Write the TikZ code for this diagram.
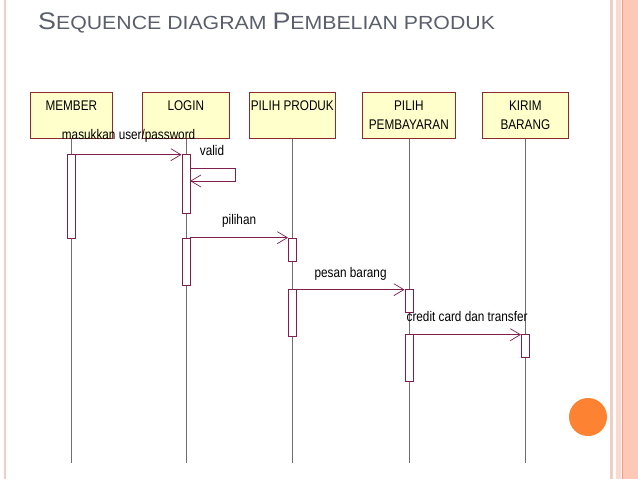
\documentclass[tikz,border=0pt]{standalone}
\usepackage{fontspec}
\setmainfont{Liberation Sans}
\newfontfamily\narrowf[FakeStretch=0.84]{Liberation Sans}
\newfontfamily\titlef[FakeStretch=1.12]{Liberation Sans}
\usetikzlibrary{arrows.meta}
\definecolor{boxfill}{HTML}{FFFFCC}
\definecolor{boxline}{HTML}{8B2C2C}
\definecolor{msgcol}{HTML}{7F1F4F}
\definecolor{lifecol}{HTML}{6E6E6E}
\definecolor{titlecol}{HTML}{5A5F6B}
\definecolor{bordpink}{HTML}{F2CDC1}
\definecolor{bordlight}{HTML}{FBD9CD}
\definecolor{bordfill}{HTML}{FDC9B6}
\definecolor{bordline}{HTML}{EE9E7E}
\definecolor{dotcol}{HTML}{FD8232}
\tikzset{
  objbox/.style={draw=boxline, fill=boxfill, line width=0.7pt, inner sep=0pt, anchor=north west},
  objtext/.style={anchor=north, inner sep=0pt, align=center, font={\narrowf\fontsize{14}{19}\selectfont}},
  actbar/.style={draw=msgcol, fill=white, line width=0.7pt, minimum width=8pt, inner sep=0pt},
  lifeline/.style={draw=lifecol, line width=0.5pt},
  msg/.style={draw=msgcol, line width=0.7pt, -{Straight Barb[length=10pt,width=12pt]}},
  msglabel/.style={anchor=base, inner sep=0pt, font={\narrowf\fontsize{14}{16}\selectfont}}
}
\begin{document}
\begin{tikzpicture}[x=1pt,y=-1pt]
\useasboundingbox (0,0) rectangle (638,479);
% slide borders
\fill[bordpink] (4,0) rectangle (6,479);
\fill[bordpink] (609.5,0) rectangle (612.5,479);
\fill[bordlight] (616,0) rectangle (621,479);
\fill[bordfill] (622,0) rectangle (638,479);
\draw[bordline, line width=1pt] (622,0) -- (622,479);
% title
\node[anchor=base west, inner sep=0pt, text=titlecol, font=\titlef] (title) at (38,30)
  {\fontsize{24}{28}\selectfont S\fontsize{19}{22}\selectfont EQUENCE DIAGRAM \fontsize{24}{28}\selectfont P\fontsize{19}{22}\selectfont EMBELIAN PRODUK};
% object boxes
\node[objbox, minimum width=82pt, minimum height=46pt] (mem) at (30,92) {};
\node[objbox, minimum width=87pt, minimum height=46pt] (log) at (142,92) {};
\node[objbox, minimum width=86pt, minimum height=46pt] (pro) at (249,92) {};
\node[objbox, minimum width=93pt, minimum height=46pt] (pay) at (362,92) {};
\node[objbox, minimum width=86pt, minimum height=46pt] (kir) at (482,92) {};
\node[objtext] (memt) at ([yshift=-9pt]mem.north) {MEMBER};
\node[objtext] (logt) at ([yshift=-9pt]log.north) {LOGIN};
\node[objtext] (prot) at ([yshift=-9pt]pro.north) {PILIH PRODUK};
\node[objtext] (payt) at ([yshift=-9pt]pay.north) {PILIH\\PEMBAYARAN};
\node[objtext] (kirt) at ([yshift=-9pt]kir.north) {KIRIM\\BARANG};
% lifeline ends
\coordinate (meme) at (mem.south |- 0,463);
\coordinate (loge) at (log.south |- 0,463);
\coordinate (proe) at (pro.south |- 0,463);
\coordinate (paye) at (pay.south |- 0,463);
\coordinate (kire) at (kir.south |- 0,463);
\draw[lifeline] (mem.south) -- (meme);
\draw[lifeline] (log.south) -- (loge);
\draw[lifeline] (pro.south) -- (proe);
\draw[lifeline] (pay.south) -- (paye);
\draw[lifeline] (kir.south) -- (kire);
% activation bars
\node[actbar, minimum height=84pt] (m1) at (mem.south |- 0,196) {};
\node[actbar, minimum height=59pt] (l1) at (log.south |- 0,183.5) {};
\node[actbar, minimum height=47pt] (l2) at (log.south |- 0,261.5) {};
\node[actbar, minimum height=23pt] (p1) at (pro.south |- 0,249.5) {};
\node[actbar, minimum height=47pt] (p2) at (pro.south |- 0,312.5) {};
\node[actbar, minimum height=23pt] (y1) at (pay.south |- 0,300.5) {};
\node[actbar, minimum height=47pt] (y2) at (pay.south |- 0,357.5) {};
\node[actbar, minimum height=23pt] (k1) at (kir.south |- 0,345.5) {};
% messages
\draw[msg] ([yshift=-1pt]m1.north east) -- node[msglabel, yshift=15pt] (lab1) {masukkan user/password} ([yshift=-1pt]l1.north west);
\coordinate (v1) at (235,168);
\coordinate (v2) at (235,181);
\draw[msg] (l1.east |- v1) -- (v1) -- (v2) -- (l1.east |- v2);
\node[msglabel] (labv) at (212,155) {valid};
\draw[msg] (l2.north east) -- node[msglabel, yshift=13pt] (lab2) {pilihan} (p1.north west);
\draw[msg] ([yshift=-1pt]p2.north east) -- node[msglabel, yshift=12pt] (lab3) {pesan barang} ([yshift=-1pt]y1.north west);
\draw[msg] ([yshift=-1pt]y2.north east) -- node[msglabel, yshift=13pt] (lab4) {credit card dan transfer} ([yshift=-1pt]k1.north west);
% decorative dot
\fill[dotcol] (588,417) circle (19);
\end{tikzpicture}
\end{document}
